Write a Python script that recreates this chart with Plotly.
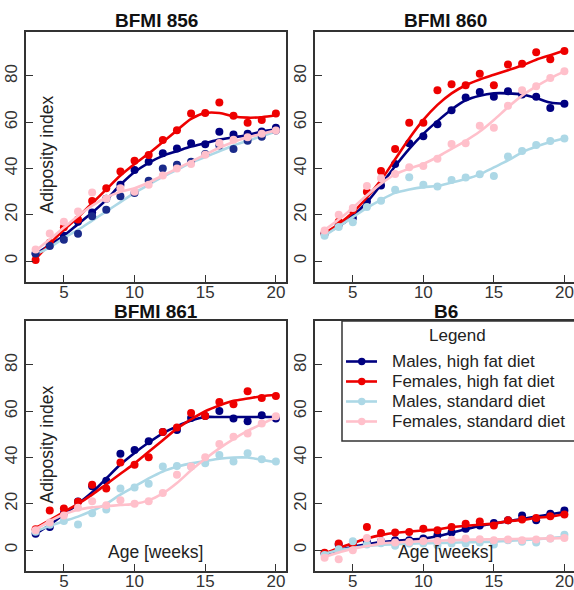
import plotly.graph_objects as go

# ---------------- data ----------------
weeks = [3, 4, 5, 6, 7, 8, 9, 10, 11, 12, 13, 14, 15, 16, 17, 18, 19, 20]
panel_titles = ["BFMI 856", "BFMI 860", "BFMI 861", "B6"]
series_names = ["Males, high fat diet", "Females, high fat diet",
                "Males, standard diet", "Females, standard diet"]
x_ticks = [5, 10, 15, 20]
y_ticks = [0, 20, 40, 60, 80]

# BFMI 856 observed points
b856_mhf = [3.3, 7, 11, 17, 21, 27, 33, 39.4, 43, 46.6, 48.7, 50.9, 50.5, 55.9, 54.7, 55, 56, 57.6]
b856_fhf = [0.5, 8, 14.6, 18, 26, 31.5, 38.7, 43.4, 45.9, 52.3, 56.6, 63.8, 64, 68.5, 62.8, 59.8, 61, 63.8]
b856_msd = [3.3, 6.5, 9.3, 11.8, 19.4, 22.2, 28, 29.4, 34.7, 40, 41.6, 43, 46.3, 50, 48.5, 52, 53.8, 56.5]
b856_fsd = [5, 12, 17, 21.5, 29.7, 27, 31.5, 30, 33, 37, 40, 42, 46, 51, 52.5, 53.5, 55, 56.5]
# BFMI 856 smooth fits
f856_mhf = [3, 7, 11, 16, 21, 26.5, 33, 38.5, 42.5, 45.5, 47.5, 49.5, 51, 52.5, 53.5, 54.5, 56, 57]
f856_fhf = [1, 7.5, 13.5, 19, 25, 31, 37, 42, 46.5, 51.5, 56.5, 61.5, 64, 64, 62.5, 62, 62.2, 63]
f856_msd = [3, 6, 10, 13.5, 17.5, 21.5, 25.5, 29.5, 33, 36.5, 39.5, 42.5, 45, 47.5, 50, 52, 54, 56]
f856_fsd = [4.5, 9.5, 14.5, 19.5, 24, 27.5, 30, 31.5, 34, 37, 40, 43, 46, 49, 51.5, 53.5, 55, 56.5]

# BFMI 860 observed points
b860_mhf = [12, 15.8, 18.6, 25.8, 32.7, 42, 50.9, 54, 59.2, 65.2, 70.7, 73.1, 71, 73.4, 72, 71, 66.2, 68]
b860_fhf = [12, 17, 22, 30, 39, 48.5, 59.8, 59.8, 73.8, 76.4, 76, 81, 76, 85, 85.3, 90.3, 87.2, 90.8]
b860_msd = [11, 14.8, 16.8, 23.4, 26.1, 30.8, 36.3, 33, 32.3, 35.1, 36.1, 37.6, 36.8, 45.2, 47.6, 50.2, 51.9, 53]
b860_fsd = [13.2, 20, 23, 32.5, 35.8, 37.7, 40.6, 41.1, 44.2, 50.6, 50.9, 58.5, 57.6, 67.1, 73.8, 75.6, 79.1, 82]
# BFMI 860 smooth fits
f860_mhf = [12, 15, 19.5, 25.5, 33, 41, 48.5, 55, 60.5, 65.5, 69.5, 71.5, 72.5, 72.5, 72, 70.5, 68.5, 68]
f860_fhf = [12, 16, 21, 27.5, 35, 44, 53, 61, 67.5, 72.5, 76, 78.5, 80.5, 82.5, 84.5, 87, 89, 91]
f860_msd = [11, 15, 19, 23, 26.5, 29.5, 31, 32, 32.5, 34, 35.5, 37.5, 40.5, 43.5, 47, 49.5, 51.5, 53]
f860_fsd = [13.5, 18, 23, 28.5, 33.5, 37.5, 40, 42, 45, 48.5, 52, 56, 61, 66.5, 71.5, 75.5, 79, 82]

# BFMI 861 observed points
b861_mhf = [7.1, 10, 16, 21, 27.6, 30, 41.6, 43.3, 47.1, 51.1, 51.9, 57.1, 58, 60.1, 56.9, 55.7, 58.3, 56.9]
b861_fhf = [9, 17.1, 18, 20.9, 28.3, 26.6, 37.9, 36.9, 40.1, 51.1, 53, 59.3, 58, 64, 63, 68.7, 65.7, 66.6]
b861_msd = [8, 11, 12.6, 11.1, 16, 17.6, 26.6, 27.1, 28.7, 36.1, 36.4, 36.1, 37.6, 41.1, 38.3, 41.9, 39.3, 38.3]
b861_fsd = [8.6, 12, 15, 18.3, 21.1, 19.4, 21.6, 20, 21.1, 24.7, 32.6, 36.1, 40.1, 45.9, 49, 50.4, 54.7, 57.9]
# BFMI 861 smooth fits
f861_mhf = [7, 11, 15.5, 20, 25, 31, 37, 42, 46.5, 50.5, 53.5, 56, 57.5, 57.5, 57.5, 57.5, 57.5, 57.5]
f861_fhf = [9.5, 13, 16.5, 20, 24, 28.5, 33, 37.5, 42.5, 47.5, 52.5, 56.5, 60, 62.5, 64.5, 65.5, 66.5, 67]
f861_msd = [8, 10.5, 12.5, 14.5, 17, 20, 24, 27.5, 31, 34, 36, 37.5, 38.5, 39.5, 40, 40, 39, 38]
f861_fsd = [9, 12.5, 15.5, 17.5, 18.5, 19, 19.5, 20, 21.5, 24.5, 29, 34.5, 39.5, 44, 48, 51.5, 54.5, 57.5]

# B6 observed points
b6_mhf = [-1.4, 2.4, 2.1, 3.5, 3.9, 4.3, 4.3, 5, 6.4, 7.6, 9.3, 10.7, 11.7, 12.9, 15, 12.9, 15.7, 17.1]
b6_fhf = [-1.1, 2.9, 2.4, 10, 7.4, 7.6, 7.9, 9.3, 8.6, 10, 11.4, 12.4, 10.7, 12.9, 13.3, 13.9, 14.7, 15.4]
b6_msd = [-2.1, 0.4, 3.9, 2.4, 3, 1.9, 2.9, 2.9, 2.1, 2.9, 2.9, 3.3, 2.4, 4.3, 3.6, 3.3, 5, 6.7]
b6_fsd = [-3.3, -3.9, 0, 5.3, 4, 3.3, 3.5, 4, 4, 4.5, 5, 4.7, 4.3, 4.6, 4.3, 4.6, 5, 5.3]
# B6 smooth fits
f6_mhf = [-1.5, 0, 1.5, 2.5, 3.5, 4, 4.5, 5, 6, 7.5, 9, 10.5, 11.5, 12.5, 13.5, 14.5, 15.5, 16.5]
f6_fhf = [-1.5, 1, 3, 5, 6.5, 7.5, 8, 8.5, 9, 10, 10.5, 11, 11.5, 12.5, 13, 14, 14.5, 15.5]
f6_msd = [-1.5, 0, 1, 1.8, 2.3, 2.6, 2.8, 3, 3.1, 3.2, 3.4, 3.5, 3.7, 4, 4.3, 4.7, 5.2, 5.8]
f6_fsd = [-3, -1, 0.5, 1.8, 2.8, 3.3, 3.6, 3.9, 4.1, 4.3, 4.5, 4.6, 4.7, 4.8, 4.9, 5, 5.1, 5.3]

points = [
    [b856_mhf, b856_fhf, b856_msd, b856_fsd],
    [b860_mhf, b860_fhf, b860_msd, b860_fsd],
    [b861_mhf, b861_fhf, b861_msd, b861_fsd],
    [b6_mhf, b6_fhf, b6_msd, b6_fsd],
]
fits = [
    [f856_mhf, f856_fhf, f856_msd, f856_fsd],
    [f860_mhf, f860_fhf, f860_msd, f860_fsd],
    [f861_mhf, f861_fhf, f861_msd, f861_fsd],
    [f6_mhf, f6_fhf, f6_msd, f6_fsd],
]

# ---------------- style ----------------
W, H = 574, 590
FONT = "Liberation Sans, Arial, sans-serif"
colors = ["#000080", "#EE0000", "#ADD8E6", "#FFC0CB"]
# in the first panel the males/standard points appear dark
point_colors = [
    ["#000080", "#EE0000", "#1a2a8a", "#FFC0CB"],
    colors, colors, colors,
]
AX = "#333333"


def px(x):
    return x / W


def py(y):
    return 1 - y / H


x_domains = [[px(26), px(285.5)], [px(315), 1.0], [px(26), px(285.5)], [px(315), 1.0]]
y_domains = [[py(282), py(32)], [py(282), py(32)], [py(571), py(321)], [py(571), py(321)]]

fig = go.Figure()

for p in range(4):
    xa = "x" if p == 0 else f"x{p+1}"
    ya = "y" if p == 0 else f"y{p+1}"
    for s in range(4):
        fig.add_trace(go.Scatter(
            x=weeks, y=fits[p][s], mode="lines", xaxis=xa, yaxis=ya,
            line=dict(color=colors[s], width=2.6, shape="spline", smoothing=0.9),
            showlegend=False, hoverinfo="skip"))
        fig.add_trace(go.Scatter(
            x=weeks, y=points[p][s], mode="markers", xaxis=xa, yaxis=ya,
            marker=dict(color=point_colors[p][s], size=8, line=dict(width=0)),
            showlegend=False, name=series_names[s]))

layout = dict(
    width=W, height=H, margin=dict(l=0, r=0, t=0, b=0, autoexpand=False),
    paper_bgcolor="white", plot_bgcolor="white", showlegend=False,
    font=dict(family=FONT, size=17, color="#222"),
)
for p in range(4):
    xk = "xaxis" if p == 0 else f"xaxis{p+1}"
    yk = "yaxis" if p == 0 else f"yaxis{p+1}"
    ya = "y" if p == 0 else f"y{p+1}"
    xa = "x" if p == 0 else f"x{p+1}"
    layout[xk] = dict(
        domain=x_domains[p], range=[2.32, 20.68], anchor=ya, automargin=False,
        tickvals=x_ticks, ticks="inside", ticklen=7, tickwidth=1.3, tickcolor=AX,
        ticklabelstandoff=-6,
        showline=True, mirror=True, linecolor=AX, linewidth=1.5,
        showgrid=False, zeroline=False,
        tickfont=dict(family=FONT, size=17, color="#333"),
    )
    layout[yk] = dict(
        domain=y_domains[p], range=[-9, 99], anchor=xa, automargin=False,
        tickvals=y_ticks, ticks="inside", ticklen=7, tickwidth=1.3, tickcolor=AX,
        tickangle=-90,
        showline=True, mirror=True, linecolor=AX, linewidth=1.5,
        showgrid=False, zeroline=False,
        tickfont=dict(family=FONT, size=17, color="#333"),
    )
fig.update_layout(**layout)

annotations = []
title_pos = [(156, 21), (445, 21), (156, 311), (446, 311)]
for p, (tx, ty) in enumerate(title_pos):
    annotations.append(dict(
        x=px(tx), y=py(ty), xref="paper", yref="paper", text=f"<b>{panel_titles[p]}</b>",
        showarrow=False, xanchor="center", yanchor="middle",
        font=dict(family=FONT, size=19, color="#111")))

for (tx, ty) in [(46.5, 155), (46.5, 445)]:
    annotations.append(dict(
        x=px(tx), y=py(ty), xref="paper", yref="paper", text="Adiposity index",
        textangle=-90, showarrow=False, xanchor="center", yanchor="middle",
        font=dict(family=FONT, size=17.5, color="#222")))
for (tx, ty) in [(155.5, 552), (445.5, 552)]:
    annotations.append(dict(
        x=px(tx), y=py(ty), xref="paper", yref="paper", text="Age [weeks]",
        showarrow=False, xanchor="center", yanchor="middle",
        font=dict(family=FONT, size=17.5, color="#222")))

# ---------------- legend (drawn in panel 4) ----------------
shapes = [dict(type="rect", xref="paper", yref="paper",
               x0=px(342), x1=px(590), y0=py(441), y1=py(321),
               line=dict(color=AX, width=1.5), fillcolor="white", layer="above")]
annotations.append(dict(
    x=px(457), y=py(335), xref="paper", yref="paper", text="Legend",
    showarrow=False, xanchor="center", yanchor="middle",
    font=dict(family=FONT, size=17, color="#222")))
legend_rows = [361.5, 381.5, 401.5, 421.5]
for s, ry in enumerate(legend_rows):
    shapes.append(dict(type="line", xref="paper", yref="paper",
                       x0=px(346), x1=px(377), y0=py(ry), y1=py(ry),
                       line=dict(color=colors[s], width=2.6), layer="above"))
    shapes.append(dict(type="circle", xref="paper", yref="paper",
                       x0=px(358), x1=px(365.5), y0=py(ry + 3.7), y1=py(ry - 3.7),
                       line=dict(width=0), fillcolor=colors[s], layer="above"))
    annotations.append(dict(
        x=px(390), y=py(ry), xref="paper", yref="paper", text=series_names[s],
        showarrow=False, xanchor="left", yanchor="middle",
        font=dict(family=FONT, size=17, color="#222")))

fig.update_layout(annotations=annotations, shapes=shapes)
fig.write_html(
    "out.html",
    config={"displayModeBar": False},
    post_script="document.body.style.margin='0';document.body.style.overflow='hidden';",
)
